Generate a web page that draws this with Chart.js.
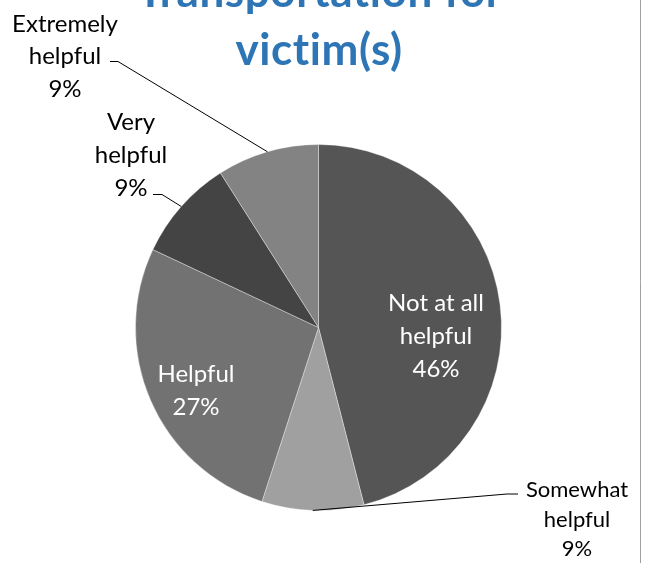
<!DOCTYPE html>
<html>
<head>
<meta charset="utf-8">
<title>Transportation for victim(s)</title>
<script src="https://cdn.jsdelivr.net/npm/chart.js@4.4.0/dist/chart.umd.min.js"></script>
<style>
  html, body { margin: 0; padding: 0; background: #ffffff; }
  #wrap { width: 647px; height: 563px; position: relative; overflow: hidden; }
</style>
</head>
<body>
<div id="wrap"><canvas id="pie" width="647" height="563"></canvas></div>
<script>
// Survey answers, shares in percent
const categories = ['Not at all helpful', 'Somewhat helpful', 'Helpful', 'Very helpful', 'Extremely helpful'];
const percentages = [46, 9, 27, 9, 9];
const sliceColors = ['#555555', '#a0a0a0', '#727272', '#444444', '#838383'];
const titleLines = ['Transportation for', 'victim(s)'];

const FONT = 'Lato, "Open Sans", sans-serif';

// Where each data label sits (centre x, first baseline y) and how it is linked to its slice
const labelLayout = [
  { lines: ['Not at all', 'helpful'], x: 436, y: 311, step: 33, size: 24, color: '#ffffff' },
  { lines: ['Somewhat', 'helpful'], x: 577, y: 497, step: 29.5, size: 22, color: '#000000', leader: [[518, 494], [507, 494]] },
  { lines: ['Helpful'], x: 196, y: 382, step: 33, size: 24, color: '#ffffff' },
  { lines: ['Very', 'helpful'], x: 131, y: 130, step: 33, size: 24, color: '#000000', leader: [[153, 194.5], [162, 194.5]] },
  { lines: ['Extremely', 'helpful'], x: 65, y: 31.5, step: 32.5, size: 24, color: '#000000', leader: [[110, 61.5], [118, 61.5]] }
];

const pieLabels = {
  id: 'pieLabels',
  afterDatasetsDraw(chart) {
    const ctx = chart.ctx;
    const arcs = chart.getDatasetMeta(0).data;
    ctx.save();

    // title, first line runs off the top edge
    ctx.fillStyle = '#2E75B6';
    ctx.font = 'bold 44px ' + FONT;
    ctx.letterSpacing = '0.6px';
    ctx.textAlign = 'center';
    ctx.textBaseline = 'alphabetic';
    ctx.fillText(titleLines[0], 320, 7);
    ctx.fillText(titleLines[1], 319, 65);
    ctx.letterSpacing = '0px';

    labelLayout.forEach((lab, i) => {
      const text = lab.lines.concat([percentages[i] + '%']);
      ctx.fillStyle = lab.color;
      ctx.font = lab.size + 'px ' + FONT;
      text.forEach((t, k) => ctx.fillText(t, lab.x, lab.y + k * lab.step));

      if (lab.leader) {
        const a = arcs[i].getProps(['x', 'y', 'startAngle', 'endAngle', 'outerRadius'], true);
        const mid = (a.startAngle + a.endAngle) / 2;
        const ex = a.x + Math.cos(mid) * a.outerRadius;
        const ey = a.y + Math.sin(mid) * a.outerRadius;
        ctx.strokeStyle = '#000000';
        ctx.lineWidth = 1;
        ctx.beginPath();
        ctx.moveTo(lab.leader[0][0], lab.leader[0][1]);
        ctx.lineTo(lab.leader[1][0], lab.leader[1][1]);
        ctx.lineTo(ex, ey);
        ctx.stroke();
      }
    });

    // chart frame edge on the right
    ctx.strokeStyle = '#a0a0a0';
    ctx.beginPath();
    ctx.moveTo(640.5, 0);
    ctx.lineTo(640.5, chart.height);
    ctx.stroke();
    ctx.restore();
  }
};

new Chart(document.getElementById('pie'), {
  type: 'pie',
  data: {
    labels: categories,
    datasets: [{
      data: percentages,
      backgroundColor: sliceColors,
      borderColor: 'rgba(255,255,255,0.35)',
      borderWidth: 1
    }]
  },
  options: {
    responsive: false,
    animation: false,
    layout: { padding: { left: 135, right: 145, top: 144, bottom: 52 } },
    plugins: {
      legend: { display: false },
      tooltip: { enabled: false },
      title: { display: false }
    }
  },
  plugins: [pieLabels]
});
</script>
</body>
</html>
